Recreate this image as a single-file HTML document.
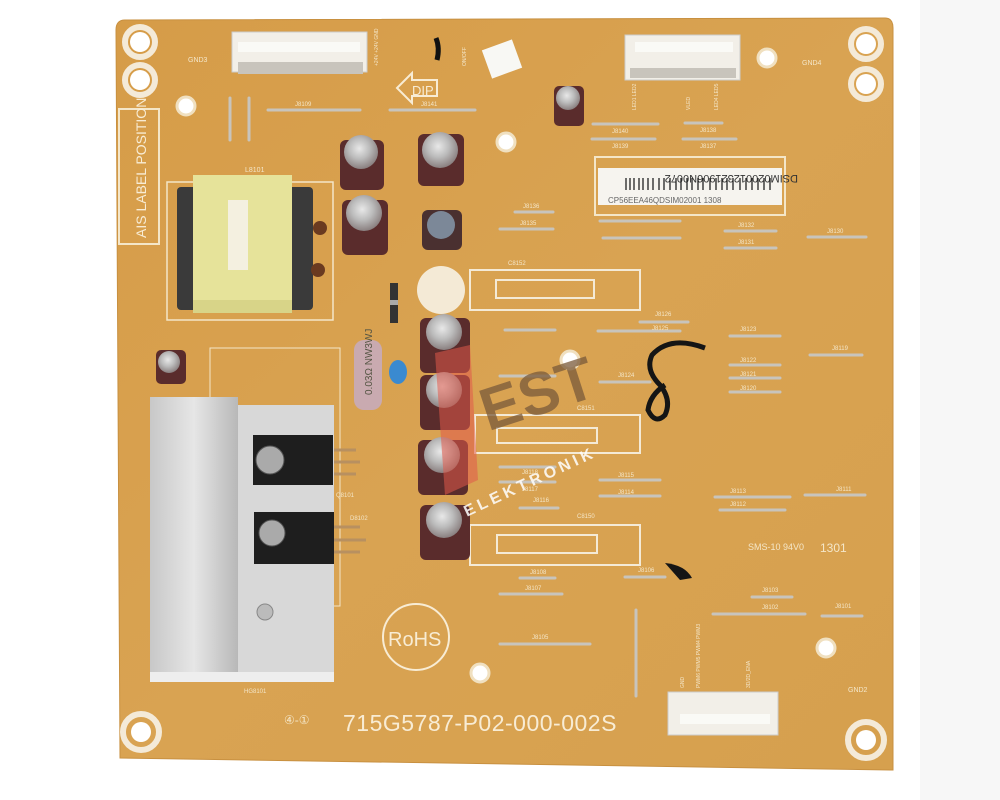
<!DOCTYPE html>
<html><head><meta charset="utf-8"><style>
html,body{margin:0;padding:0;background:#fff;}
svg{display:block}
text{font-family:"Liberation Sans",sans-serif;}
</style></head><body>
<svg width="1000" height="800" viewBox="0 0 1000 800" xmlns="http://www.w3.org/2000/svg">
<defs>
<radialGradient id="cap" cx="0.45" cy="0.4" r="0.6"><stop offset="0" stop-color="#e8e8e8"/><stop offset="0.5" stop-color="#bcbcbc"/><stop offset="1" stop-color="#8a8080"/></radialGradient>
<linearGradient id="hs" x1="0" x2="1"><stop offset="0" stop-color="#c8c8c8"/><stop offset="0.5" stop-color="#e6e6e6"/><stop offset="1" stop-color="#b8b8b8"/></linearGradient>
<linearGradient id="brd" x1="0" y1="0" x2="1" y2="1"><stop offset="0" stop-color="#d69c48"/><stop offset="0.5" stop-color="#d9a352"/><stop offset="1" stop-color="#d6a04e"/></linearGradient>
</defs>
<rect width="1000" height="800" fill="#fff"/>
<rect x="920" y="0" width="80" height="800" fill="#f7f7f7"/>
<!-- board -->
<path d="M125 20 L885 18 Q893 18 893 28 L893 770 L120 758 L116 30 Q116 20 125 20Z" fill="url(#brd)" stroke="#c89040" stroke-width="1"/>
<!-- corner holes -->
<g fill="none" stroke="#f4ead8" stroke-width="6">
<circle cx="140" cy="42" r="15"/><circle cx="140" cy="80" r="15"/>
<circle cx="866" cy="44" r="15"/><circle cx="866" cy="84" r="15"/>
<circle cx="141" cy="732" r="18"/><circle cx="866" cy="740" r="18"/>
</g>
<g fill="#fff"><circle cx="140" cy="42" r="10"/><circle cx="140" cy="80" r="10"/><circle cx="866" cy="44" r="10"/><circle cx="866" cy="84" r="10"/><circle cx="141" cy="732" r="10"/><circle cx="866" cy="740" r="10"/>
<circle cx="186" cy="106" r="9" stroke="#f0e0c0" stroke-width="3"/><circle cx="767" cy="58" r="9" stroke="#f0e0c0" stroke-width="3"/><circle cx="506" cy="142" r="9" stroke="#f0e0c0" stroke-width="3"/><circle cx="480" cy="673" r="9" stroke="#f0e0c0" stroke-width="3"/><circle cx="570" cy="360" r="9" stroke="#f0e0c0" stroke-width="3"/><circle cx="826" cy="648" r="9" stroke="#f0e0c0" stroke-width="3"/></g>
<g font-size="7" fill="#f4e6c8"><text x="188" y="62">GND3</text><text x="802" y="65">GND4</text><text x="848" y="692">GND2</text></g>
<!-- AIS label -->
<rect x="119" y="109" width="40" height="135" fill="none" stroke="#f4e6c8" stroke-width="2"/>
<text transform="translate(146,238) rotate(-90)" font-size="14" fill="#f8ecd4">AIS LABEL POSITION</text>
<!-- connectors -->
<rect x="232" y="32" width="135" height="40" fill="#f2efe8" stroke="#ccc"/><rect x="238" y="42" width="122" height="10" fill="#fafaf6"/>
<rect x="238" y="62" width="125" height="12" fill="#c8c4bc"/>
<rect x="625" y="35" width="115" height="45" fill="#f2efe8" stroke="#ccc"/><rect x="635" y="42" width="98" height="10" fill="#fafaf6"/><rect x="630" y="68" width="106" height="10" fill="#c8c4bc"/>
<rect x="668" y="692" width="110" height="43" fill="#f2efe8" stroke="#ccc"/><rect x="680" y="714" width="90" height="10" fill="#fafaf6"/>
<g font-size="5" fill="#f4e6c8"><text transform="translate(378,66) rotate(-90)">+24V +24V GND</text><text transform="translate(466,66) rotate(-90)">ON/OFF</text>
<text transform="translate(636,110) rotate(-90)">LED1 LED2</text><text transform="translate(690,110) rotate(-90)">VLED</text><text transform="translate(718,110) rotate(-90)">LED4 LED5</text>
<text transform="translate(684,688) rotate(-90)">GND</text><text transform="translate(700,688) rotate(-90)">PWM6 PWM5 PWM4 PWM3</text><text transform="translate(750,688) rotate(-90)">3D/2D_ENA</text></g>
<!-- DIP arrow -->
<path d="M397 88 L412 73 L412 80 L437 80 L437 96 L412 96 L412 103Z" fill="none" stroke="#f8ecd4" stroke-width="2"/><text x="412" y="95" font-size="13" fill="#f8ecd4">DIP</text>
<path d="M436 38 Q440 48 437 60" stroke="#111" stroke-width="5" fill="none"/>
<rect x="486" y="44" width="32" height="30" fill="#f8f8f4" transform="rotate(-20 502 59)"/>
<!-- sticker -->
<rect x="595" y="157" width="190" height="58" fill="none" stroke="#f4e6c8" stroke-width="2"/>
<rect x="598" y="168" width="184" height="37" fill="#f6f4ef"/>
<text x="612" y="185" font-size="11" fill="#333" transform="rotate(180 705 180)">DSIM020012321906N0072</text>
<g stroke="#222" stroke-width="1.3"><path d="M626 178v12M630 178v12M634 178v12M639 178v12M643 178v12M648 178v12M653 178v12M659 178v12M664 178v12M670 178v12M676 178v12M681 178v12M687 178v12M692 178v12M698 178v12M703 178v12M710 178v12M716 178v12M722 178v12M727 178v12M733 178v12M740 178v12M746 178v12M752 178v12M758 178v12M764 178v12M770 178v12"/></g>
<text x="608" y="203" font-size="8" fill="#666">CP56EEA46QDSIM02001 1308</text>
<!-- transformer -->
<rect x="167" y="182" width="166" height="138" fill="none" stroke="#f4e6c8" stroke-width="1.5"/>
<rect x="177" y="187" width="136" height="123" fill="#3a3a3a" rx="4"/>
<rect x="193" y="175" width="99" height="138" fill="#e6e39a"/><rect x="193" y="300" width="99" height="13" fill="#d8d488"/>
<rect x="228" y="200" width="20" height="70" fill="#f4f0e0"/>
<circle cx="320" cy="228" r="7" fill="#6a3a20"/><circle cx="318" cy="270" r="7" fill="#6a3a20"/>
<text x="245" y="172" font-size="7" fill="#f4e6c8">L8101</text>
<!-- jumpers -->
<g stroke="#c8c4bc" stroke-width="3" stroke-linecap="round">
<path d="M268 110H360M390 110H475M230 98V140M249 98V140M593 124H658M592 139H655M685 123H722M683 139H736M515 212H553M500 229H553M600 221H680M603 238H680M725 231H776M725 248H776M808 237H866M505 330H555M640 322H688M598 331H680M730 336H780M810 355H862M600 382H650M500 376H555M730 365H780M730 378H780M730 392H780M500 467H555M500 482H555M520 508H558M600 480H660M600 496H660M715 497H790M720 510H785M805 495H865M520 578H555M500 594H562M625 577H665M752 597H792M713 614H805M822 616H862M500 644H590M636 610V696"/>
</g>
<!-- white capacitor outlines -->
<g fill="none" stroke="#f4ead6" stroke-width="2"><rect x="470" y="270" width="170" height="40"/><rect x="496" y="280" width="98" height="18"/><rect x="475" y="415" width="165" height="38"/><rect x="497" y="428" width="100" height="15"/><rect x="470" y="525" width="170" height="40"/><rect x="497" y="535" width="100" height="18"/></g>
<circle cx="441" cy="290" r="24" fill="#f4ead6"/>
<!-- diode, resistor -->
<rect x="390" y="283" width="8" height="40" fill="#333"/><rect x="390" y="300" width="8" height="5" fill="#aaa"/>
<rect x="354" y="340" width="28" height="70" rx="10" fill="#c9aab0"/><text transform="translate(372,395) rotate(-90)" font-size="10" fill="#554">0.03Ω NW3WJ</text>
<ellipse cx="398" cy="372" rx="9" ry="12" fill="#3a8ad0"/>
<!-- capacitors -->
<g fill="#5a2c2c">
<rect x="340" y="140" width="44" height="50" rx="6"/><rect x="418" y="134" width="46" height="52" rx="6"/><rect x="342" y="200" width="46" height="55" rx="6"/><rect x="422" y="210" width="40" height="40" rx="6" fill="#4a3030"/>
<rect x="554" y="86" width="30" height="40" rx="5"/><rect x="156" y="350" width="30" height="34" rx="5"/>
<rect x="420" y="318" width="50" height="55" rx="6"/><rect x="420" y="375" width="50" height="55" rx="6"/><rect x="418" y="440" width="50" height="55" rx="6"/><rect x="420" y="505" width="50" height="55" rx="6"/>
</g>
<g fill="url(#cap)">
<circle cx="361" cy="152" r="17"/><circle cx="440" cy="150" r="18"/><circle cx="364" cy="213" r="18"/><circle cx="441" cy="225" r="14" fill="#7c8898"/>
<circle cx="568" cy="98" r="12"/><circle cx="169" cy="362" r="11"/>
<circle cx="444" cy="332" r="18"/><circle cx="444" cy="390" r="18"/><circle cx="442" cy="455" r="18"/><circle cx="444" cy="520" r="18"/>
</g>
<!-- heatsink -->
<rect x="210" y="348" width="130" height="258" fill="none" stroke="#f4e6c8" stroke-width="1"/>
<rect x="150" y="397" width="88" height="282" fill="url(#hs)"/>
<rect x="238" y="405" width="96" height="274" fill="#d8d8d8"/>
<rect x="150" y="672" width="184" height="10" fill="#eee"/>
<rect x="253" y="435" width="80" height="50" fill="#1e1e1e"/><circle cx="270" cy="460" r="14" fill="#aaa" stroke="#555"/>
<rect x="254" y="512" width="80" height="52" fill="#1e1e1e"/><circle cx="272" cy="533" r="13" fill="#aaa" stroke="#555"/>
<g stroke="#b89060" stroke-width="3"><path d="M334 450H356M334 462H360M334 474H356M334 527H360M334 540H366M334 552H360"/></g>
<circle cx="265" cy="612" r="8" fill="#bbb" stroke="#888"/>
<g font-size="6" fill="#f4e6c8"><text x="336" y="497">Q8101</text><text x="350" y="520">D8102</text><text x="244" y="693">HG8101</text></g>
<!-- scribble -->
<path d="M705 348 Q670 335 652 355 Q645 370 660 385 Q672 400 665 415 Q655 425 648 410 Q650 395 665 385" stroke="#151515" stroke-width="5" fill="none"/>
<path d="M665 563 Q685 565 692 578 L680 580Z" fill="#151515"/>
<!-- watermark -->
<path d="M435 353 L470 345 L478 480 L445 495 Z" fill="#e05a4a" opacity="0.55"/>
<text x="480" y="420" font-size="60" font-weight="bold" fill="#7a5a3a" opacity="0.75" transform="rotate(-18 520 400)">EST</text>
<text x="452" y="490" font-size="16" font-weight="bold" fill="#fff" opacity="0.85" letter-spacing="4" transform="rotate(-25 520 470)">ELEKTRONIK</text>
<!-- misc text -->
<circle cx="416" cy="637" r="33" fill="none" stroke="#f8ecd4" stroke-width="2"/>
<text x="388" y="646" font-size="20" fill="#f8ecd4">RoHS</text>
<text x="343" y="731" font-size="23" fill="#f8ecd4" letter-spacing="0.5">715G5787-P02-000-002S</text>
<text x="284" y="724" font-size="12" fill="#f4e6c8">④-①</text>
<text x="748" y="550" font-size="9" fill="#f4e6c8">SMS-10 94V0</text><text x="820" y="552" font-size="12" fill="#f4e6c8">1301</text>
<g font-size="6" fill="#f4e6c8">
<text x="295" y="106">J8109</text><text x="421" y="106">J8141</text><text x="612" y="133">J8140</text><text x="612" y="148">J8139</text><text x="700" y="132">J8138</text><text x="700" y="148">J8137</text>
<text x="523" y="208">J8136</text><text x="520" y="225">J8135</text><text x="738" y="227">J8132</text><text x="738" y="244">J8131</text><text x="827" y="233">J8130</text>
<text x="655" y="316">J8126</text><text x="652" y="330">J8125</text><text x="740" y="331">J8123</text><text x="832" y="350">J8119</text><text x="618" y="377">J8124</text>
<text x="740" y="362">J8122</text><text x="740" y="376">J8121</text><text x="740" y="390">J8120</text>
<text x="522" y="474">J8118</text><text x="522" y="491">J8117</text><text x="533" y="502">J8116</text><text x="618" y="477">J8115</text><text x="618" y="494">J8114</text><text x="730" y="493">J8113</text><text x="730" y="506">J8112</text><text x="836" y="491">J8111</text>
<text x="530" y="574">J8108</text><text x="525" y="590">J8107</text><text x="638" y="572">J8106</text><text x="762" y="592">J8103</text><text x="762" y="609">J8102</text><text x="835" y="608">J8101</text><text x="532" y="639">J8105</text>
<text x="508" y="265">C8152</text><text x="577" y="410">C8151</text><text x="577" y="518">C8150</text>
</g>
</svg>
</body></html>
